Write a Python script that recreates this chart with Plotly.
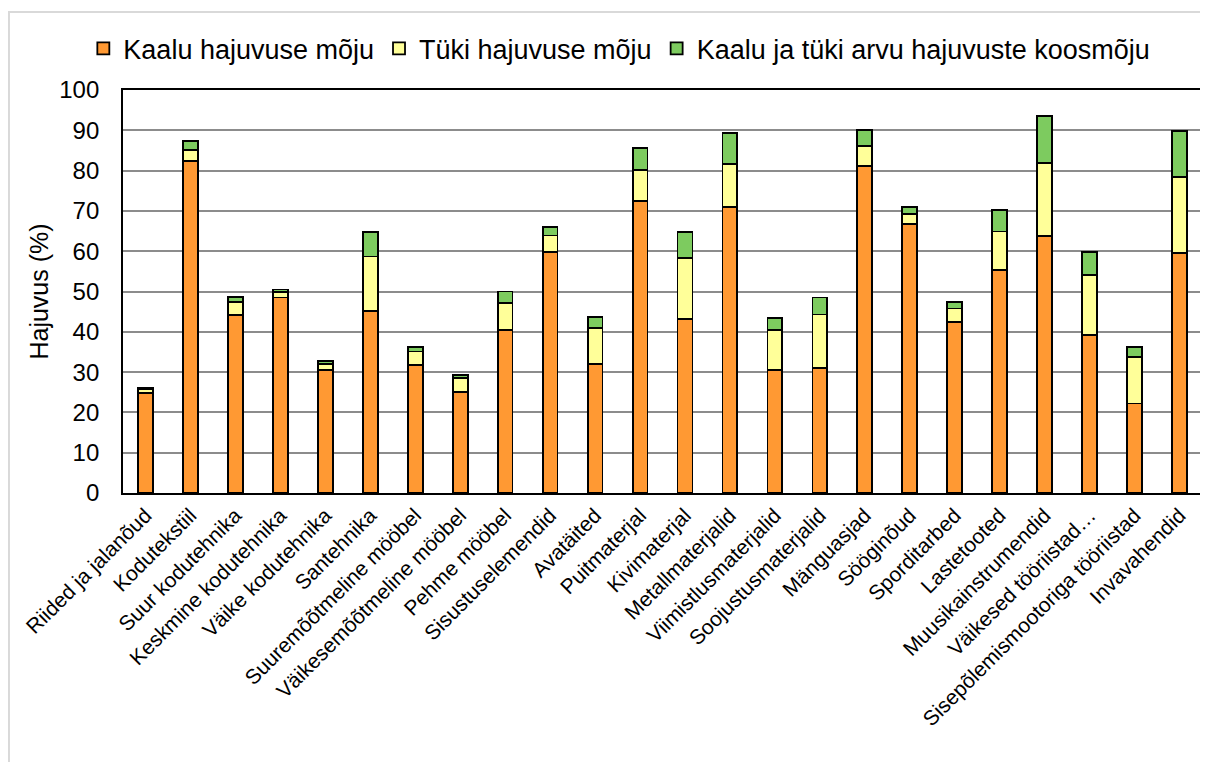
import plotly.graph_objects as go

categories = [
    "Riided ja jalanõud", "Kodutekstiil", "Suur kodutehnika", "Keskmine kodutehnika",
    "Väike kodutehnika", "Santehnika", "Suuremõõtmeline mööbel", "Väikesemõõtmeline mööbel",
    "Pehme mööbel", "Sisustuselemendid", "Avatäited", "Puitmaterjal", "Kivimaterjal",
    "Metallmaterjalid", "Viimistlusmaterjalid", "Soojustusmaterjalid", "Mänguasjad",
    "Sööginõud", "Sporditarbed", "Lastetooted", "Muusikainstrumendid",
    "Väikesed tööriistad…", "Sisepõlemismootoriga tööriistad", "Invavahendid",
]

kaalu = [24.8, 82.4, 44.1, 48.5, 30.5, 45.2, 31.7, 25.0, 40.4, 59.9, 32.0, 72.4,
         43.2, 71.0, 30.5, 31.0, 81.2, 66.7, 42.4, 55.3, 63.7, 39.3, 22.2, 59.6]
tyki = [0.9, 2.7, 3.2, 1.3, 1.5, 13.5, 3.4, 3.5, 6.8, 4.0, 8.9, 7.8,
        15.1, 10.7, 9.9, 13.3, 4.9, 2.6, 3.4, 9.6, 18.2, 14.8, 11.5, 18.9]
koos = [0.4, 2.3, 1.4, 0.7, 0.7, 6.1, 1.1, 0.7, 2.8, 2.2, 2.8, 5.5,
        6.5, 7.6, 3.0, 4.2, 3.9, 1.7, 1.5, 5.4, 11.6, 5.7, 2.5, 11.3]

series = [
    ("Kaalu hajuvuse mõju", kaalu, "#FF9933"),
    ("Tüki hajuvuse mõju", tyki, "#FFFF99"),
    ("Kaalu ja tüki arvu hajuvuste koosmõju", koos, "#7DCB5F"),
]

fig = go.Figure()
for name, vals, col in series:
    fig.add_trace(go.Bar(
        x=categories, y=vals, name=name,
        marker=dict(color=col, line=dict(color="#000000", width=1.8)),
    ))

font_family = "Liberation Sans, Arial, sans-serif"

# page body has an 8px default margin; compensate so the plot area lands where it should
fig.update_layout(
    barmode="stack",
    bargap=0.67,
    width=1200, height=754,
    margin=dict(l=115, r=6, t=82, b=269, autoexpand=False),
    paper_bgcolor="white", plot_bgcolor="white",
    font=dict(family=font_family, color="#000000"),
    legend=dict(
        orientation="h", x=0.46, xanchor="center", y=1.102, yanchor="middle",
        font=dict(size=27, family=font_family), traceorder="normal",
        itemwidth=30, bgcolor="rgba(0,0,0,0)",
    ),
    xaxis=dict(
        tickangle=-45, tickfont=dict(size=21, family=font_family),
        showline=True, linecolor="#000000", linewidth=1.8, mirror=True,
        showgrid=False, ticks="", automargin=False,
    ),
    yaxis=dict(
        range=[0, 100], dtick=10, tickfont=dict(size=24, family=font_family),
        showline=True, linecolor="#000000", linewidth=1.8, mirror=True,
        showgrid=True, gridcolor="#8C8C8C", gridwidth=1.5,
        ticklabelstandoff=17, ticks="", automargin=False,
        title=dict(text="Hajuvus (%)", font=dict(size=25, family=font_family), standoff=4),
        zeroline=False,
    ),
    shapes=[dict(
        type="rect", xref="paper", yref="paper",
        x0=-0.1057, x1=1.2, y0=-1.0, y1=1.1935,
        line=dict(color="#D9D9D9", width=2), fillcolor="rgba(0,0,0,0)", layer="below",
    )],
)

fig.write_html("out.html")
